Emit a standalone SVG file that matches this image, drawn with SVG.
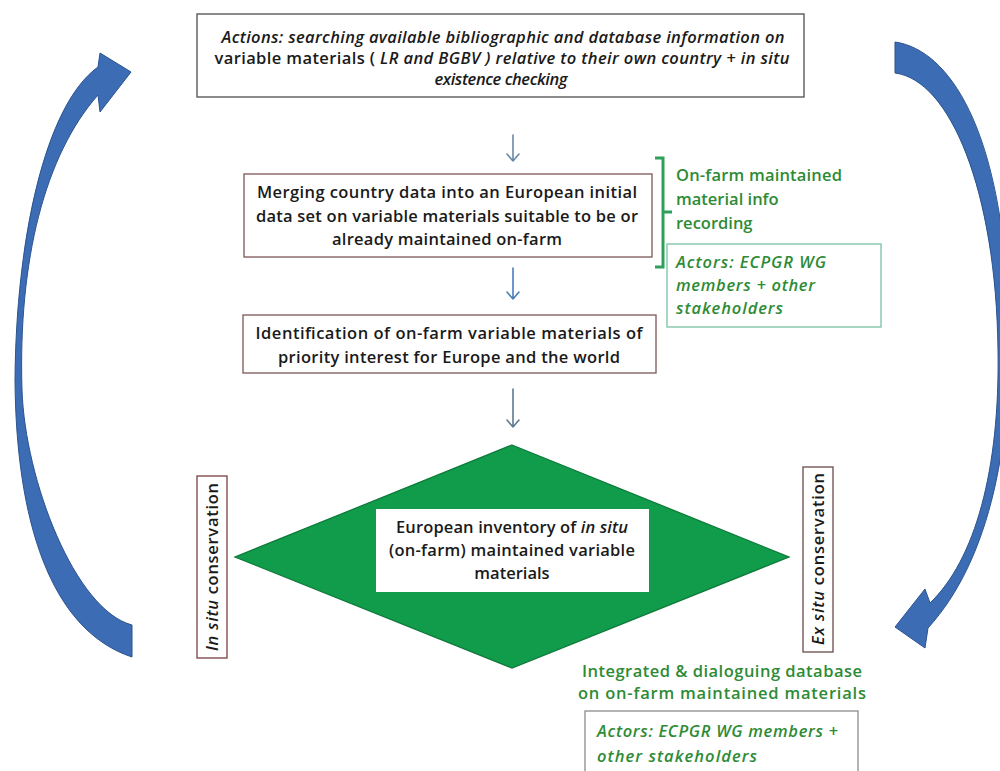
<svg xmlns="http://www.w3.org/2000/svg" width="1000" height="771" viewBox="0 0 1000 771">
  <style>
    text { font-family: "Open Sans", "Liberation Sans", sans-serif; font-weight: 600; font-size: 16.5px; fill: #1a1a1a; }
    .c { text-anchor: middle; }
    .i { font-style: italic; }
    .g { fill: #2e8b35; }
    .box { fill: #ffffff; stroke: #5a5a5a; stroke-width: 1.4; }
    .boxr { fill: #ffffff; stroke: #7d5656; stroke-width: 1.3; }
    .boxg { fill: #ffffff; stroke: #78c2a4; stroke-width: 1.3; }
    .boxgr { fill: #ffffff; stroke: #8c8c8c; stroke-width: 1.3; }
    .loop { fill: #3c6db4; stroke: #2b538f; stroke-width: 1; }
    .step { fill: none; stroke-width: 1.6; stroke-linecap: round; stroke-linejoin: round; }
  </style>

  <rect width="1000" height="771" fill="#ffffff"/>

  <!-- cycle arrows and step arrows -->
  <g id="connectors">
    <!-- left loop arrow, pointing up to the actions box -->
    <path class="loop" d="M132,625 C75,610 25,480 22,390 C18,260 45,155 98,95 L100,112 L131,72 L100,53 L98,67 C45,105 16,240 15,380 C16,520 50,630 132,657 Z"/>
    <!-- right loop arrow, pointing down to the inventory -->
    <path class="loop" d="M895,42 C950,50 1000,130 1008,300 C1015,440 990,560 928,628 L925,648 L895,627 L925,589 L930,603 C975,560 1000,470 998,350 C996,190 950,80 895,73 Z"/>
    <!-- step arrows -->
    <path class="step" stroke="#6a89a6" d="M513,135 V161 M507,154 L513,161 L519,154"/>
    <path class="step" stroke="#4a7ebb" d="M513,268 V299 M507,292 L513,299 L519,292"/>
    <path class="step" stroke="#5d7b92" d="M513,389 V427 M507,420 L513,427 L519,420"/>
    <!-- bracket grouping the merging step -->
    <path fill="none" stroke="#2ea05a" stroke-width="3" d="M655,158 H663 V267 H655 M663,212 H672"/>
  </g>

  <g id="actions">
    <rect class="box" x="197" y="14" width="607" height="83"/>
    <text class="c i" x="503" y="43" textLength="563">Actions:  searching  available bibliographic and database information on</text>
    <text class="c" x="502" y="64" textLength="575"><tspan>variable materials ( </tspan><tspan class="i">LR and BGBV ) relative to their own country + in situ</tspan></text>
    <text class="c i" x="501" y="85" textLength="133">existence checking</text>
  </g>

  <g id="merging">
    <rect class="boxr" x="244" y="174" width="408" height="83"/>
    <text class="c" x="447" y="198" textLength="380">Merging country data  into an European  initial</text>
    <text class="c" x="447" y="222" textLength="382">data set on variable materials suitable to be  or</text>
    <text class="c" x="447" y="245" textLength="230">already maintained on-farm</text>
  </g>

  <g id="recording">
    <text class="g" x="676" y="181" textLength="166">On-farm maintained</text>
    <text class="g" x="676" y="205">material  info</text>
    <text class="g" x="676" y="229">recording</text>
  </g>

  <g id="actors-top">
    <rect class="boxg" x="667" y="244" width="214" height="83"/>
    <text class="g i" x="676" y="268" textLength="150">Actors: ECPGR WG</text>
    <text class="g i" x="676" y="291" textLength="139">members + other</text>
    <text class="g i" x="676" y="314" textLength="107">stakeholders</text>
  </g>

  <g id="identification">
    <rect class="boxr" x="243" y="315" width="413" height="58"/>
    <text class="c" x="449" y="339" textLength="387">Identification  of  on-farm variable materials  of</text>
    <text class="c" x="449" y="363" textLength="342">priority interest  for Europe and the world</text>
  </g>

  <g id="inventory">
    <polygon points="512,445 789,557 512,668 235,557" fill="#119c4b" stroke="#0d7a3a" stroke-width="1.3"/>
    <rect x="376" y="509" width="273" height="83" fill="#ffffff"/>
    <text class="c" x="512" y="533" textLength="232">European inventory of <tspan class="i">in situ</tspan></text>
    <text class="c" x="512" y="556" textLength="246">(on-farm) maintained variable</text>
    <text class="c" x="512" y="579">materials</text>
  </g>

  <g id="in-situ">
    <rect x="197" y="476" width="30" height="182" fill="#ffffff" stroke="#7a4040" stroke-width="1.3"/>
    <text class="c" x="212" y="573" transform="rotate(-90 212 567)" textLength="168"><tspan class="i">In situ</tspan> conservation</text>
  </g>

  <g id="ex-situ">
    <rect x="803" y="467" width="30" height="185" fill="#ffffff" stroke="#6b4a4a" stroke-width="1.3"/>
    <text class="c" x="818" y="565" transform="rotate(-90 818 559)" textLength="172"><tspan class="i">Ex situ</tspan> conservation</text>
  </g>

  <g id="database">
    <text class="c g" x="722" y="677" textLength="280">Integrated &amp; dialoguing database</text>
    <text class="c g" x="722" y="699" textLength="288">on on-farm maintained  materials</text>
  </g>

  <g id="actors-bottom">
    <rect class="boxgr" x="585" y="711" width="273" height="70"/>
    <text class="g i" x="597" y="737" textLength="241">Actors: ECPGR WG members +</text>
    <text class="g i" x="597" y="762" textLength="160">other stakeholders</text>
  </g>
</svg>
